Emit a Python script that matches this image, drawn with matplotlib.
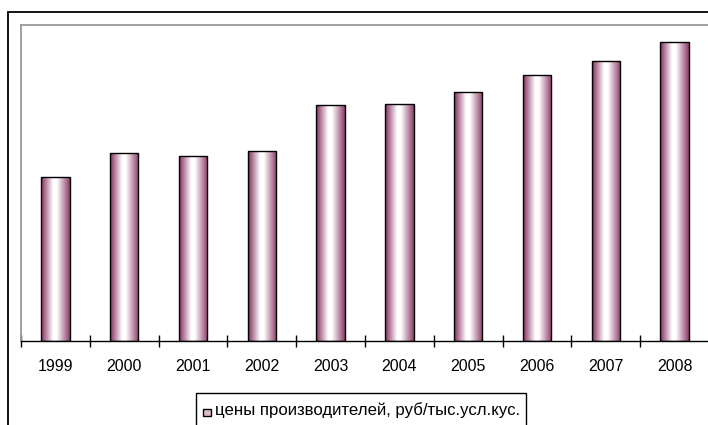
import numpy as np
import matplotlib
matplotlib.use("Agg")
import matplotlib.pyplot as plt
from matplotlib.colors import LinearSegmentedColormap
from matplotlib.patches import Rectangle

plt.rcParams['font.family'] = ['Liberation Sans', 'DejaVu Sans']

years = ['1999', '2000', '2001', '2002', '2003', '2004', '2005', '2006', '2007', '2008']
prices = [164, 188, 185, 190, 236, 237, 249, 266, 280, 299]
series_label = 'цены производителей, руб/тыс.усл.кус.'

W, H = 708, 425
fig = plt.figure(figsize=(W / 100, H / 100), dpi=100)


def fx(px):
    return px / W


def fy(py):
    return (H - py) / H


# plot area: left 21px, top 25px, baseline 341px, 68.8px per category
ax = fig.add_axes([fx(21), fy(341), 688 / W, 316 / H])

grad = LinearSegmentedColormap.from_list(
    'bar', [(0.0, '#86305f'), (0.42, '#ffffff'), (0.55, '#ffffff'), (1.0, '#8f3e6c')])
ramp = np.linspace(0, 1, 64).reshape(1, -1)

x = np.arange(len(years))
bars = ax.bar(x, prices, width=0.41, facecolor='none', edgecolor='black', linewidth=1.0, zorder=3)
for b in bars:
    im = ax.imshow(ramp, cmap=grad, aspect='auto', zorder=2,
                   extent=[b.get_x(), b.get_x() + b.get_width(), 0, b.get_height()])
    im.set_clip_path(b)

ax.set_xlim(-0.5, len(years) - 0.5)
ax.set_ylim(0, 316)
ax.set_yticks([])
ax.set_xticks(np.arange(len(years) + 1) - 0.5, minor=True)
ax.set_xticks(x)
ax.set_xticklabels(years, fontsize=11.5)
ax.tick_params(axis='x', which='major', length=0, pad=13)
ax.tick_params(axis='x', which='minor', length=8, direction='inout', width=1.0)

for side in ['top', 'left']:
    ax.spines[side].set_color('#999999')
    ax.spines[side].set_linewidth(1.3)
ax.spines['right'].set_visible(False)
ax.spines['bottom'].set_color('black')
ax.spines['bottom'].set_linewidth(1.0)

# outer chart frame, runs off the right and bottom edges
fig.patches.append(Rectangle((fx(8), -0.2), 1.2, fy(12) + 0.2, transform=fig.transFigure,
                             fill=False, edgecolor='black', linewidth=1.3))

# legend box, cut off by the bottom edge like in the original
fig.patches.append(Rectangle((fx(196), fy(440)), (526 - 196) / W, (440 - 393) / H,
                             transform=fig.transFigure, fill=False,
                             edgecolor='black', linewidth=1.0))
fig.patches.append(Rectangle((fx(203), fy(415.5)), 8 / W, 7 / H,
                             transform=fig.transFigure, facecolor='#dcb9cc',
                             edgecolor='black', linewidth=1.0))
fig.text(fx(215), fy(415.5), series_label, fontsize=12.1, ha='left', va='baseline')

fig.savefig('out.png', dpi=100)
